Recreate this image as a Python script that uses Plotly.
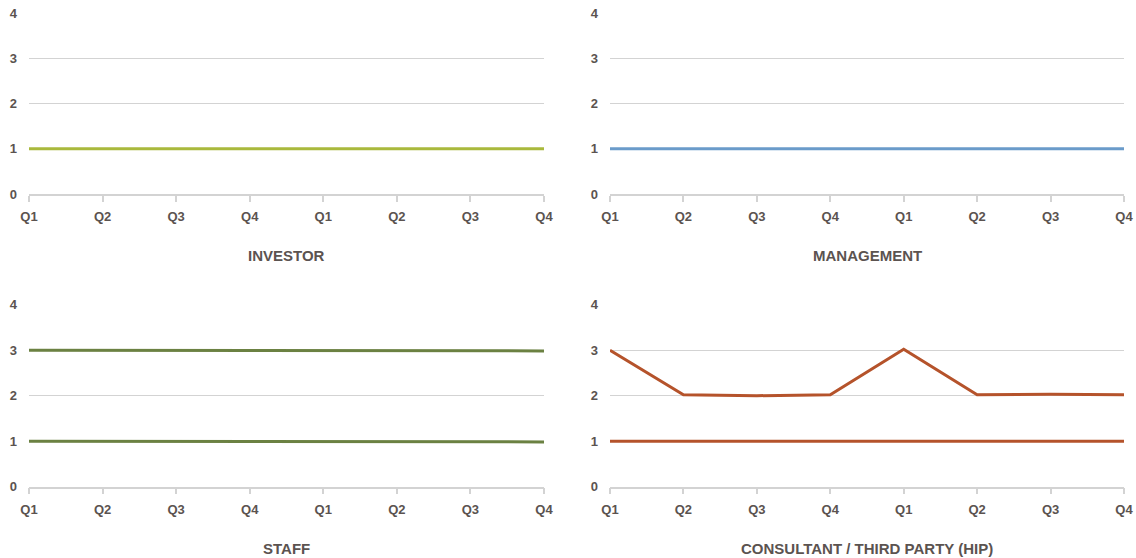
import plotly.graph_objects as go

quarters = ["Q1", "Q2", "Q3", "Q4", "Q1", "Q2", "Q3", "Q4"]
xpos = list(range(len(quarters)))

investor = [1.0, 1.0, 0.99, 1.0, 1.0, 1.0, 1.0, 1.0]
management = [1.0, 1.0, 1.0, 1.0, 1.0, 1.0, 1.0, 1.0]
staff_a = [3.0, 3.0, 3.0, 3.0, 3.0, 3.0, 2.985, 2.985]
staff_b = [1.0, 1.0, 1.0, 1.0, 1.0, 1.0, 0.985, 0.985]
consult_a = [3.0, 2.02, 2.0, 2.02, 3.02, 2.02, 2.03, 2.02]
consult_b = [1.0, 1.0, 1.0, 1.0, 1.0, 1.0, 1.0, 1.0]

titles = ["INVESTOR", "MANAGEMENT", "STAFF", "CONSULTANT / THIRD PARTY (HIP)"]
yticks = [0, 1, 2, 3, 4]

c_inv = "#a9b93c"
c_man = "#6a9bca"
c_staff = "#6b8142"
c_cons = "#b5532b"
text_col = "#5b5350"
grid_col = "#d3d3d3"

W, H = 1136, 558
xdoms = [(29 / W, 544 / W), (610 / W, 1124 / W)]
ydoms = [(1 - 194 / H, 1 - 13 / H), (1 - 486.7 / H, 1 - 304.7 / H)]

fig = go.Figure()

panels = [
    (0, 0, [(investor, c_inv)]),
    (1, 0, [(management, c_man)]),
    (0, 1, [(staff_a, c_staff), (staff_b, c_staff)]),
    (1, 1, [(consult_a, c_cons), (consult_b, c_cons)]),
]

font_family = "Liberation Sans, Arial, sans-serif"

for i, (col, row, series) in enumerate(panels):
    n = i + 1
    xa = "x" if n == 1 else f"x{n}"
    ya = "y" if n == 1 else f"y{n}"
    for vals, colr in series:
        fig.add_trace(go.Scatter(x=xpos, y=vals, mode="lines", xaxis=xa, yaxis=ya,
                                 line=dict(color=colr, width=3), cliponaxis=False,
                                 showlegend=False, hoverinfo="skip"))
    xkey = "xaxis" if n == 1 else f"xaxis{n}"
    ykey = "yaxis" if n == 1 else f"yaxis{n}"
    fig.update_layout(**{
        xkey: dict(domain=list(xdoms[col]), anchor=ya, range=[0, 7], automargin=False,
                   tickmode="array", tickvals=xpos, ticktext=quarters,
                   showgrid=False, zeroline=False, showline=True,
                   linecolor=grid_col, linewidth=1.5, ticks="outside", ticklen=6,
                   tickcolor=grid_col, tickwidth=1.5, ticklabelstandoff=4,
                   tickfont=dict(family=font_family, size=13, color=text_col, weight="bold")),
        ykey: dict(domain=list(ydoms[row]), anchor=xa, range=[0, 4], automargin=False,
                   tickmode="array", tickvals=yticks, showgrid=True,
                   gridcolor=grid_col, gridwidth=1.2, zeroline=False, showline=False,
                   ticks="", ticklabelstandoff=11,
                   tickfont=dict(family=font_family, size=13, color=text_col, weight="bold")),
    })
    cx = (xdoms[col][0] + xdoms[col][1]) / 2
    ty = 1 - (255 / H) if row == 0 else 1 - (548 / H)
    fig.add_annotation(text=titles[i], x=cx, y=ty, xref="paper", yref="paper",
                       showarrow=False, xanchor="center", yanchor="middle",
                       font=dict(family=font_family, size=15, color=text_col, weight="bold"))

fig.update_layout(width=W, height=H, margin=dict(l=0, r=0, t=0, b=0),
                  plot_bgcolor="white", paper_bgcolor="white")

fig.write_html("out.html", config={"displayModeBar": False},
               post_script="document.body.style.margin='0';document.body.style.overflow='hidden';")
